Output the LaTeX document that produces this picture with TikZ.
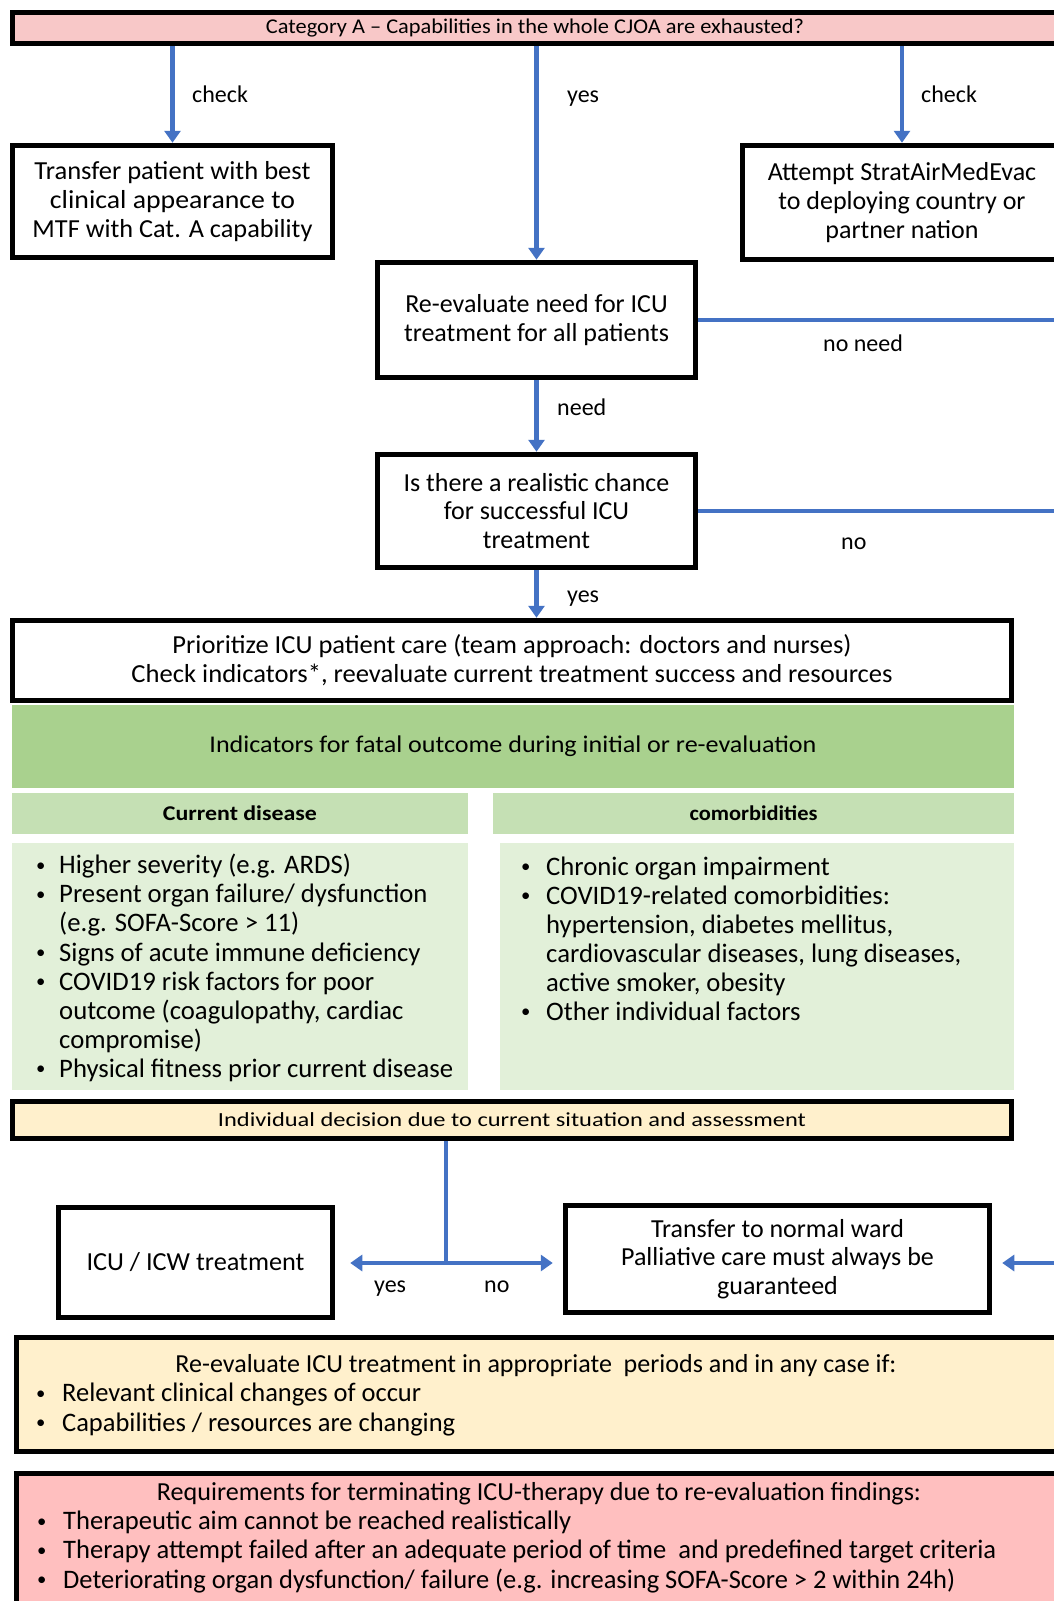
\documentclass[tikz,border=0pt]{standalone}
\usepackage{fontspec}
\setmainfont{Carlito}
\usepackage{graphicx}
\usetikzlibrary{arrows.meta,backgrounds}
\definecolor{flowblue}{HTML}{4472C4}
\definecolor{pinkA}{HTML}{F8C8C8}
\definecolor{pinkB}{HTML}{FFBFBF}
\definecolor{greenH}{HTML}{A9D18E}
\definecolor{greenS}{HTML}{C5E0B4}
\definecolor{greenB}{HTML}{E2F0D9}
\definecolor{yel}{HTML}{FFF0CC}
\newcommand\W[2]{\resizebox{#1pt}{\height}{#2}}
\newcommand\bodyfont{\fontsize{26}{28.8}\selectfont}
\newcommand\listfont{\fontsize{26.7}{29.1}\selectfont}
\newcommand\bul[1]{\makebox[#1pt][l]{\hspace*{2pt}\raisebox{0.1em}{\scalebox{0.7}{\textbullet}}}}
\begin{document}
\begin{tikzpicture}[x=1pt,y=-1pt,
  box/.style={draw=black,line width=5.5pt,fill=white,inner sep=0pt,align=center,font=\bodyfont},
  panel/.style={draw=none,inner sep=0pt,align=center},
  txt/.style={inner sep=0pt,align=center,font=\bodyfont},
  listtext/.style={inner sep=0pt,anchor=west,align=left,font=\listfont},
  lab/.style={inner sep=0pt,anchor=west,text height=17pt,text depth=5pt,font=\fontsize{24}{28}\selectfont},
  flow/.style={draw=flowblue,line width=4.5pt},
  arr/.style={flow,-{Triangle[length=12pt,width=16pt]}}]
\useasboundingbox (0,0) rectangle (1054,1601);
\begin{scope}[on background layer]
\fill[white] (0,0) rectangle (1054,1601);
\end{scope}

% top bar
\node[box,fill=pinkA,minimum width=1045pt,minimum height=31pt,font=\fontsize{21}{24}\selectfont] (cat) at (535,28)
  {\W{538}{Category A – Capabilities in the whole CJOA are exhausted?}};

% first row
\node[box,minimum width=320pt,minimum height=112pt] (lbox) at (172.5,201.5)
  {\W{276}{Transfer patient with best}\\\W{245}{clinical appearance to}\\\W{280}{MTF with Cat. A capability}};
\node[box,minimum width=319pt,minimum height=114pt] (rbox) at (902,202.5)
  {Attempt StratAirMedEvac\\to deploying country or\\partner nation};
\node[box,minimum width=318pt,minimum height=115pt] (reeval) at (536.5,320)
  {Re-evaluate need for ICU\\treatment for all patients};
\node[box,minimum width=318pt,minimum height=113pt] (chance) at (536.5,511)
  {Is there a realistic chance\\for successful ICU\\treatment};

% prioritize
\node[box,minimum width=999pt,minimum height=80pt] (prio) at (512,660.5)
  {\W{679}{Prioritize ICU patient care (team approach: doctors and nurses)}\\\W{761}{Check indicators*, reevaluate current treatment success and resources}};

% indicators table
\node[panel,fill=greenH,minimum width=1002pt,minimum height=83pt,font=\fontsize{24}{28}\selectfont] (ind) at (513,746.5)
  {\W{607}{Indicators for fatal outcome during initial or re-evaluation}};
\node[panel,fill=greenS,minimum width=456pt,minimum height=41pt,font=\bfseries\fontsize{21}{24}\selectfont] (subL) at (240,813.5)
  {\W{154}{Current disease}};
\node[panel,fill=greenS,minimum width=521pt,minimum height=41pt,font=\bfseries\fontsize{21}{24}\selectfont] (subR) at (753.5,813.5)
  {\W{128}{comorbidities}};
\node[panel,fill=greenB,minimum width=456pt,minimum height=247pt] (bodyL) at (240,966.5) {};
\node[panel,fill=greenB,minimum width=514pt,minimum height=247pt] (bodyR) at (757,966.5) {};
\node[listtext] (listL) at (34,968)
  {\bul{25}Higher severity (e.g. ARDS)\\
   \bul{25}Present organ failure/ dysfunction\\
   \hspace*{25pt}(e.g. SOFA-Score > 11)\\
   \bul{25}Signs of acute immune deficiency\\
   \bul{25}COVID19 risk factors for poor\\
   \hspace*{25pt}outcome (coagulopathy, cardiac\\
   \hspace*{25pt}compromise)\\
   \bul{25}Physical fitness prior current disease};
\node[listtext] (listR) at (519,938.6)
  {\bul{27}Chronic organ impairment\\
   \bul{27}COVID19-related comorbidities:\\
   \hspace*{27pt}hypertension, diabetes mellitus,\\
   \hspace*{27pt}cardiovascular diseases, lung diseases,\\
   \hspace*{27pt}active smoker, obesity\\
   \bul{27}Other individual factors};

% decision
\node[box,fill=yel,minimum width=999pt,minimum height=37pt,font=\fontsize{20}{24}\selectfont] (indiv) at (512,1120)
  {\W{588}{Individual decision due to current situation and assessment}};
\node[box,minimum width=274pt,minimum height=110pt] (icu) at (195.5,1262.5)
  {\W{218}{ICU / ICW treatment}};
\node[box,minimum width=424pt,minimum height=107pt] (ward) at (777.5,1259)
  {\W{253}{Transfer to normal ward}\\Palliative care must always be\\guaranteed};

% re-evaluate
\node[box,fill=yel,minimum width=1051pt,minimum height=114pt] (reicu) at (542,1394.5) {};
\node[txt] (reicuT) at (536,1365.5)
  {\W{721}{Re-evaluate ICU treatment in appropriate\ \ periods and in any case if:}};
\node[listtext] (reicuL) at (34,1409.5)
  {\bul{28}\W{359}{Relevant clinical changes of occur}\\
   \bul{28}\W{393}{Capabilities / resources are changing}};

% requirements
\node[box,fill=pinkB,minimum width=1051pt,minimum height=139pt] (req) at (542,1543) {};
\node[txt] (reqT) at (539,1494)
  {\W{764}{Requirements for terminating ICU-therapy due to re-evaluation findings:}};
\node[listtext] (reqL) at (35,1552)
  {\bul{28}\W{508}{Therapeutic aim cannot be reached realistically}\\
   \bul{28}\W{933}{Therapy attempt failed after an adequate period of time\ \ and predefined target criteria}\\
   \bul{28}\W{892}{Deteriorating organ dysfunction/ failure (e.g. increasing SOFA-Score > 2 within 24h)}};

% labels
\node[lab] (lchkL) at (192,96) {check};
\node[lab] (lyesT) at (567,96) {yes};
\node[lab] (lchkR) at (921,96) {check};
\node[lab] (lnoneed) at (823,345) {no need};
\node[lab] (lneed) at (557,409) {need};
\node[lab] (lno) at (841,543) {no};
\node[lab] (lyes2) at (567,596) {yes};
\node[lab] (lyes3) at (374,1286) {yes};
\node[lab] (lno3) at (484,1286) {no};

% free ends
\coordinate (eR1) at (1060,320);
\coordinate (eR2) at (1060,511);
\coordinate (eR3) at (1060,1263);
\coordinate (j) at (446,1263);

\begin{scope}[on background layer]
\draw[arr] (cat.south -| lbox.north) -- (lbox.north);
\draw[arr] (cat.south -| reeval.north) -- (reeval.north);
\draw[arr] (cat.south -| rbox.north) -- (rbox.north);
\draw[flow] (reeval.east) -- (eR1);
\draw[arr] (reeval.south) -- (chance.north);
\draw[flow] (chance.east) -- (eR2);
\draw[arr] (chance.south) -- (chance.south |- prio.north);
\draw[flow] (indiv.south -| j) -- (j);
\draw[arr,shorten >=15pt] (j) -- (j -| icu.east);
\draw[arr,shorten >=10pt] (j) -- (j -| ward.west);
\draw[arr,shorten >=10pt] (eR3) -- (eR3 -| ward.east);
\end{scope}
\end{tikzpicture}
\end{document}
